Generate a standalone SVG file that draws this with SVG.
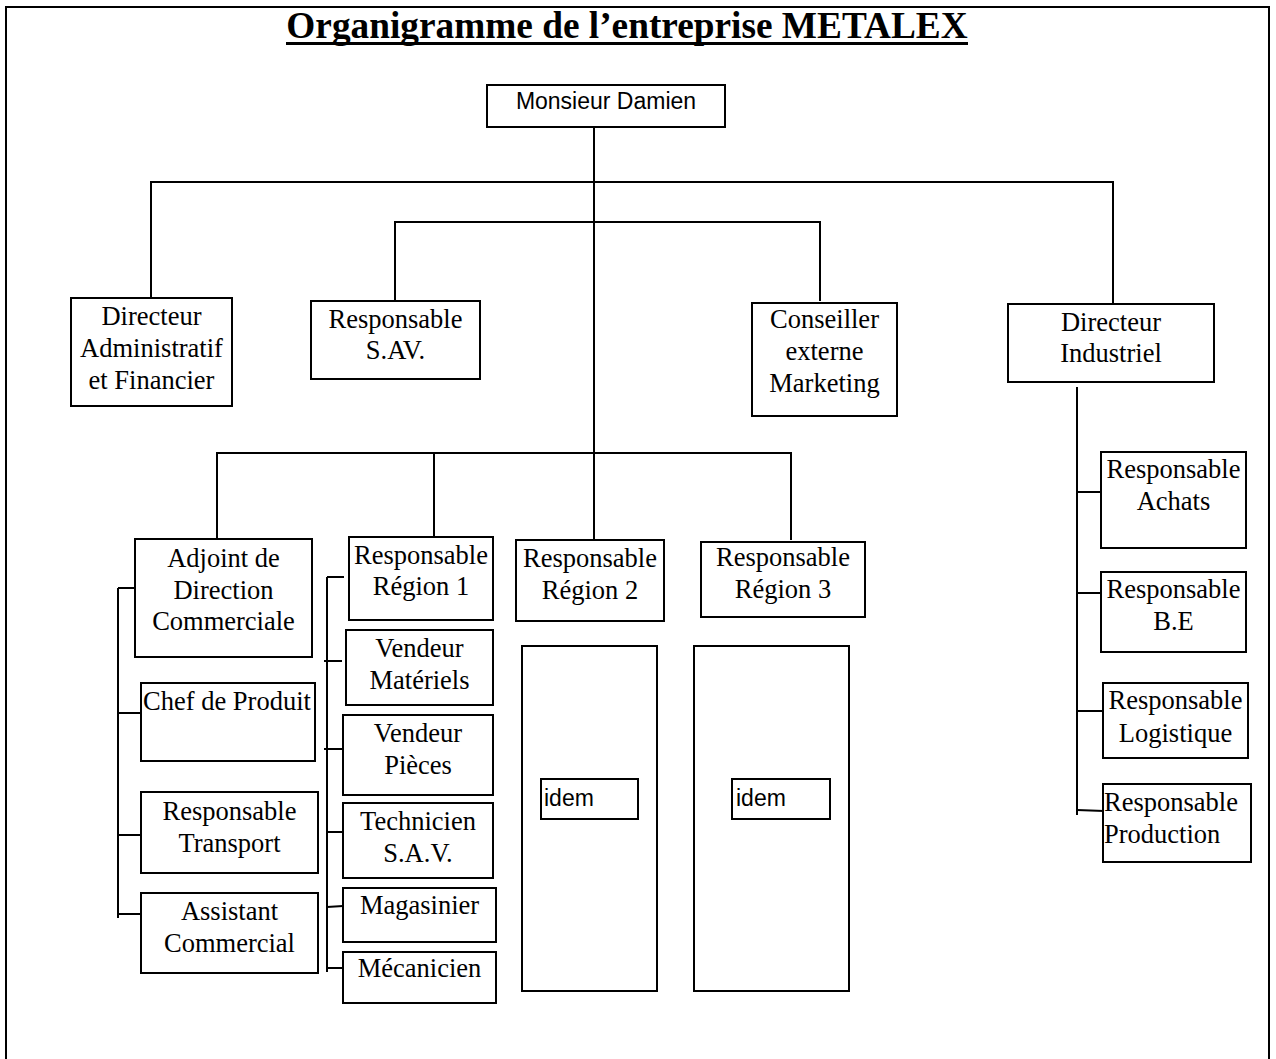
<svg xmlns="http://www.w3.org/2000/svg" width="1276" height="1059" viewBox="0 0 1276 1059">
  <style>
    .box { fill: #fff; stroke: #000; stroke-width: 2; }
    .ln { stroke: #000; stroke-width: 2; fill: none; }
    .t { font-family: "Liberation Serif", "Times New Roman", serif; font-size: 26.5px; fill: #000; text-anchor: middle; }
    .ts { font-family: "Liberation Serif", "Times New Roman", serif; font-size: 26.5px; fill: #000; }
    .a { font-family: "Liberation Sans", Arial, sans-serif; font-size: 23px; fill: #000; }
    .title { font-family: "Liberation Serif", "Times New Roman", serif; font-size: 37.3px; font-weight: bold; fill: #000; text-anchor: middle; }
  </style>

  <rect x="0" y="0" width="1276" height="1059" fill="#fff"/>
  <!-- page frame (bottom edge runs off the page) -->
  <rect x="6" y="7" width="1263" height="1070" fill="none" stroke="#000" stroke-width="2"/>

  <!-- title -->
  <text class="title" x="627" y="38">Organigramme de l’entreprise METALEX</text>
  <rect x="286" y="42" width="682" height="3" fill="#000"/>

  <!-- connectors -->
  <g id="connectors">
    <line class="ln" x1="594" y1="127" x2="594" y2="540"/>
    <polyline class="ln" points="151,298 151,182 1113,182 1113,304"/>
    <polyline class="ln" points="395,301 395,222 820,222 820,301"/>
    <polyline class="ln" points="217,539 217,453 791,453 791,540"/>
    <line class="ln" x1="434" y1="453" x2="434" y2="537"/>
    <!-- commercial staff -->
    <line class="ln" x1="118" y1="588" x2="118" y2="918"/>
    <line class="ln" x1="118" y1="588" x2="141" y2="588"/>
    <line class="ln" x1="118" y1="713" x2="141" y2="713"/>
    <line class="ln" x1="118" y1="835" x2="141" y2="835"/>
    <line class="ln" x1="118" y1="914" x2="141" y2="914"/>
    <!-- region 1 staff -->
    <line class="ln" x1="327" y1="577" x2="327" y2="972"/>
    <line class="ln" x1="327" y1="577" x2="344" y2="577"/>
    <line class="ln" x1="324" y1="661" x2="342" y2="661"/>
    <line class="ln" x1="324" y1="749" x2="342" y2="749"/>
    <line class="ln" x1="327" y1="832" x2="343" y2="832"/>
    <line class="ln" x1="327" y1="907" x2="343" y2="906"/>
    <line class="ln" x1="327" y1="968" x2="343" y2="968"/>
    <!-- industrial staff -->
    <line class="ln" x1="1077" y1="387" x2="1077" y2="815"/>
    <line class="ln" x1="1077" y1="492" x2="1104" y2="492"/>
    <line class="ln" x1="1077" y1="593" x2="1104" y2="593"/>
    <line class="ln" x1="1077" y1="711" x2="1104" y2="711"/>
    <line class="ln" x1="1077" y1="810" x2="1104" y2="811"/>
  </g>

  <g id="n-damien">
    <rect class="box" x="487" y="85" width="238" height="42"/>
    <text class="a" x="606" y="109" text-anchor="middle">Monsieur Damien</text>
  </g>

  <g id="n-daf">
    <rect class="box" x="71" y="298" width="161" height="108"/>
    <text class="t" x="151.5" y="325">Directeur</text>
    <text class="t" x="151.5" y="357">Administratif</text>
    <text class="t" x="151.5" y="389">et Financier</text>
  </g>

  <g id="n-sav">
    <rect class="box" x="311" y="301" width="169" height="78"/>
    <text class="t" x="395.5" y="328">Responsable</text>
    <text class="t" x="395.5" y="359">S.AV.</text>
  </g>

  <g id="n-conseiller">
    <rect class="box" x="752" y="303" width="145" height="113"/>
    <text class="t" x="824.5" y="328">Conseiller</text>
    <text class="t" x="824.5" y="360">externe</text>
    <text class="t" x="824.5" y="392">Marketing</text>
  </g>

  <g id="n-industriel">
    <rect class="box" x="1008" y="304" width="206" height="78"/>
    <text class="t" x="1111" y="331">Directeur</text>
    <text class="t" x="1111" y="362">Industriel</text>
  </g>

  <g id="n-adjoint">
    <rect class="box" x="135" y="539" width="177" height="118"/>
    <text class="t" x="223.5" y="567">Adjoint de</text>
    <text class="t" x="223.5" y="599">Direction</text>
    <text class="t" x="223.5" y="630">Commerciale</text>
  </g>

  <g id="n-chef-produit">
    <rect class="box" x="141" y="683" width="174" height="78"/>
    <text class="t" x="227" y="710">Chef de Produit</text>
  </g>

  <g id="n-transport">
    <rect class="box" x="141" y="792" width="177" height="81"/>
    <text class="t" x="229.5" y="820">Responsable</text>
    <text class="t" x="229.5" y="852">Transport</text>
  </g>

  <g id="n-assistant">
    <rect class="box" x="141" y="893" width="177" height="80"/>
    <text class="t" x="229.5" y="920">Assistant</text>
    <text class="t" x="229.5" y="952">Commercial</text>
  </g>

  <g id="n-region1">
    <rect class="box" x="349" y="537" width="144" height="83"/>
    <text class="t" x="421" y="564">Responsable</text>
    <text class="t" x="421" y="595">Région 1</text>
  </g>

  <g id="n-vendeur-materiels">
    <rect class="box" x="346" y="630" width="147" height="75"/>
    <text class="t" x="419.5" y="657">Vendeur</text>
    <text class="t" x="419.5" y="689">Matériels</text>
  </g>

  <g id="n-vendeur-pieces">
    <rect class="box" x="343" y="715" width="150" height="80"/>
    <text class="t" x="418" y="742">Vendeur</text>
    <text class="t" x="418" y="774">Pièces</text>
  </g>

  <g id="n-technicien">
    <rect class="box" x="343" y="803" width="150" height="75"/>
    <text class="t" x="418" y="830">Technicien</text>
    <text class="t" x="418" y="862">S.A.V.</text>
  </g>

  <g id="n-magasinier">
    <rect class="box" x="343" y="888" width="153" height="54"/>
    <text class="t" x="419.5" y="914">Magasinier</text>
  </g>

  <g id="n-mecanicien">
    <rect class="box" x="343" y="952" width="153" height="51"/>
    <text class="t" x="419.5" y="977">Mécanicien</text>
  </g>

  <g id="n-region2">
    <rect class="box" x="516" y="540" width="148" height="81"/>
    <text class="t" x="590" y="567">Responsable</text>
    <text class="t" x="590" y="599">Région 2</text>
  </g>

  <g id="n-region2-staff">
    <rect class="box" x="522" y="646" width="135" height="345"/>
    <rect class="box" x="541" y="779" width="97" height="40"/>
    <text class="a" x="544" y="806">idem</text>
  </g>

  <g id="n-region3">
    <rect class="box" x="701" y="542" width="164" height="75"/>
    <text class="t" x="783" y="566">Responsable</text>
    <text class="t" x="783" y="598">Région 3</text>
  </g>

  <g id="n-region3-staff">
    <rect class="box" x="694" y="646" width="155" height="345"/>
    <rect class="box" x="732" y="779" width="98" height="40"/>
    <text class="a" x="736" y="806">idem</text>
  </g>

  <g id="n-achats">
    <rect class="box" x="1101" y="452" width="145" height="96"/>
    <text class="t" x="1173.5" y="478">Responsable</text>
    <text class="t" x="1173.5" y="510">Achats</text>
  </g>

  <g id="n-be">
    <rect class="box" x="1101" y="572" width="145" height="80"/>
    <text class="t" x="1173.5" y="598">Responsable</text>
    <text class="t" x="1173.5" y="630">B.E</text>
  </g>

  <g id="n-logistique">
    <rect class="box" x="1103" y="683" width="145" height="75"/>
    <text class="t" x="1175.5" y="709">Responsable</text>
    <text class="t" x="1175.5" y="742">Logistique</text>
  </g>

  <g id="n-production">
    <rect class="box" x="1103" y="784" width="148" height="78"/>
    <text class="ts" x="1104" y="811">Responsable</text>
    <text class="ts" x="1104" y="843">Production</text>
  </g>
</svg>
